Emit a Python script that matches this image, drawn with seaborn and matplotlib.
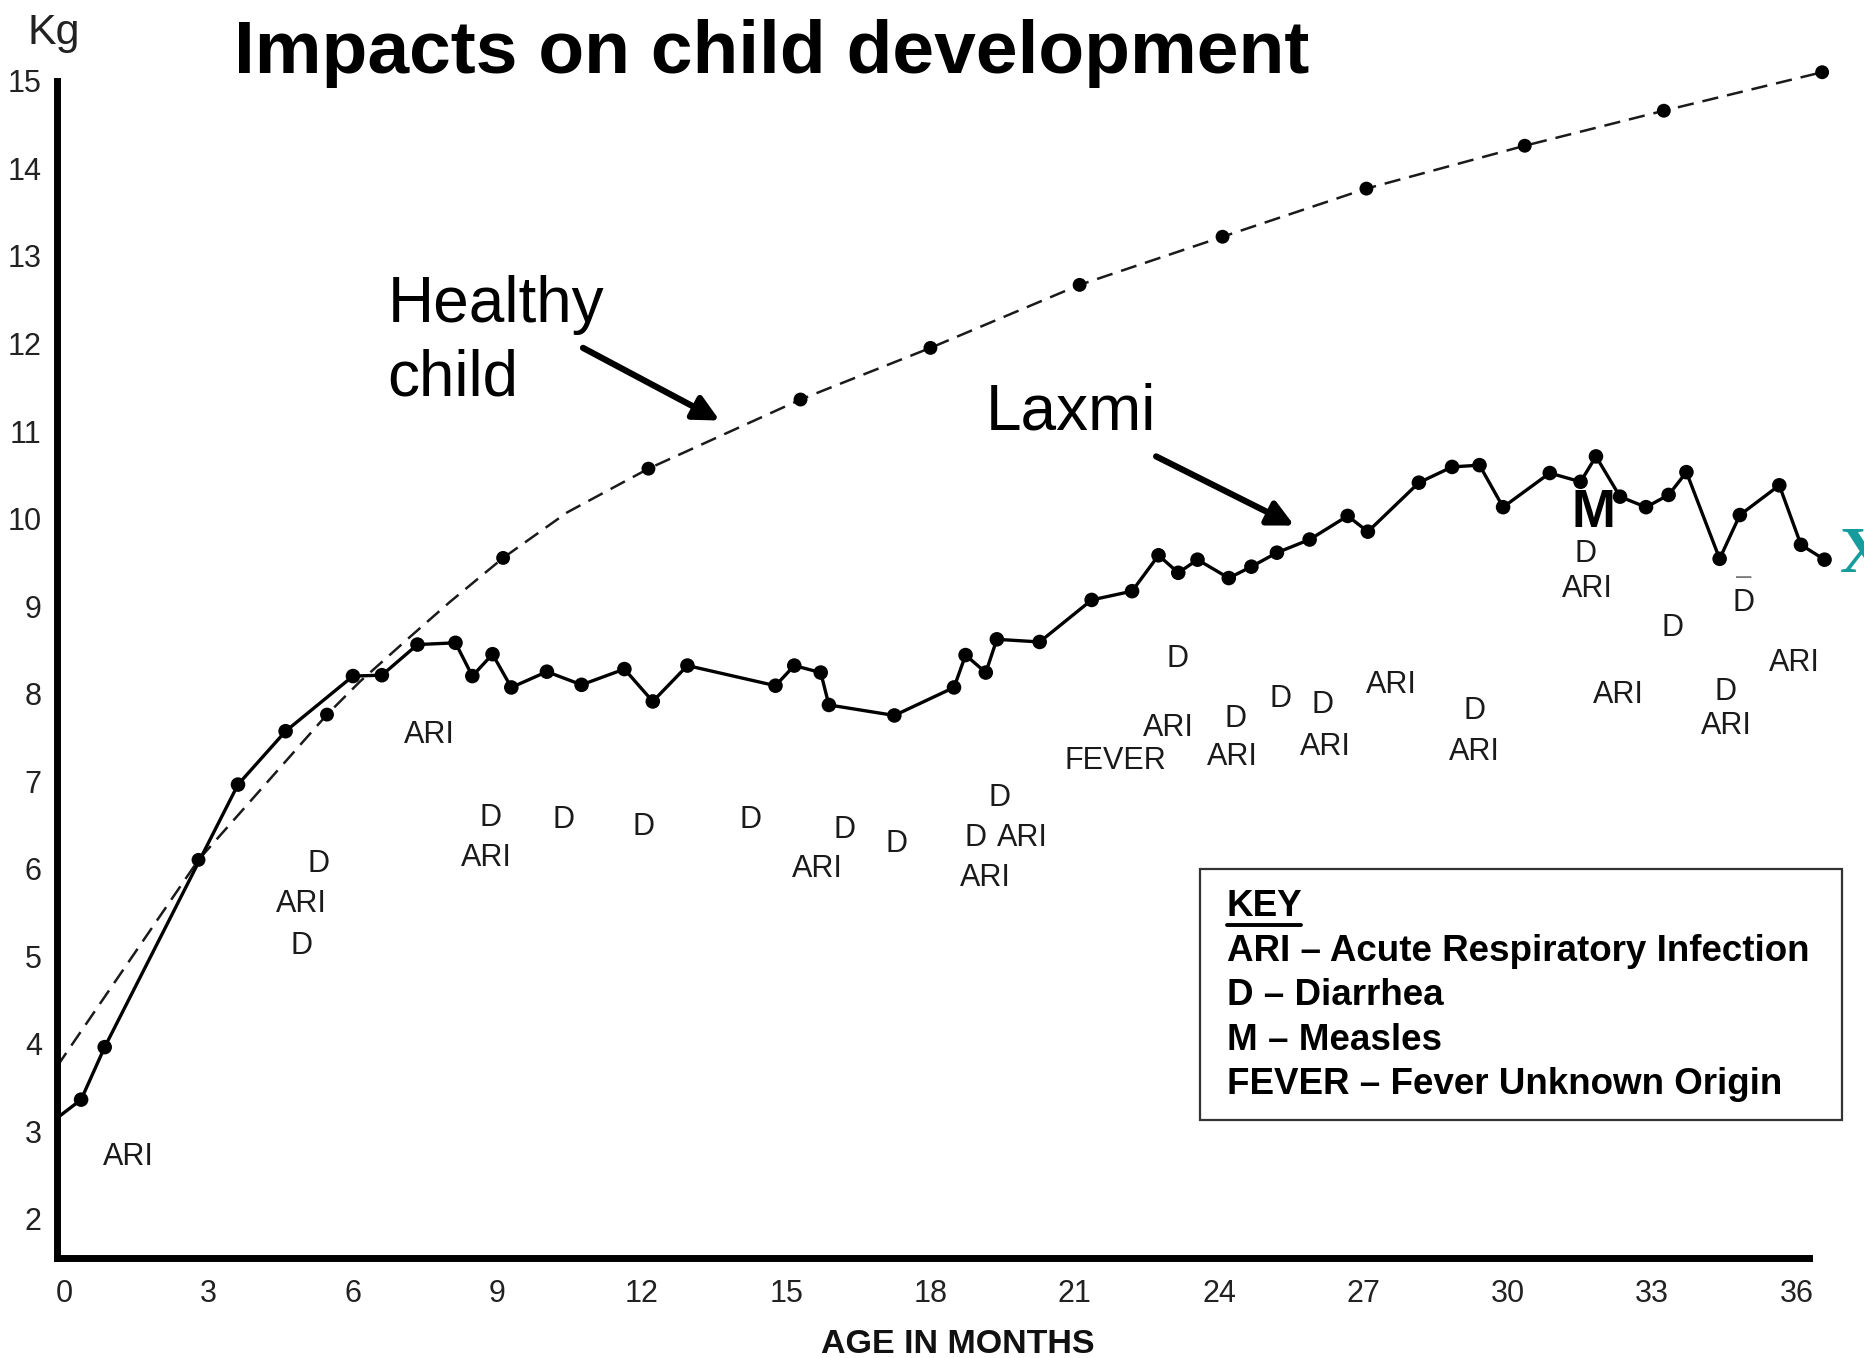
import matplotlib
matplotlib.use("Agg")
import matplotlib.pyplot as plt
import seaborn as sns
from matplotlib.patches import Rectangle
from matplotlib.lines import Line2D

# ---------------- data ----------------
healthy_month = [-0.15, 2.79, 5.46, 6.15, 7.19, 8.02, 9.12, 10.45, 12.14, 15.30,
                 18.00, 21.10, 24.07, 27.06, 30.35, 33.24, 36.53]
healthy_kg = [3.74, 6.10, 7.76, 8.14, 8.65, 9.05, 9.55, 10.07, 10.57, 11.36,
              11.95, 12.67, 13.22, 13.77, 14.26, 14.66, 15.10]
healthy_dot = [False, True, True, False, False, False, True, False, True, True,
               True, True, True, True, True, True, True]

laxmi_month = [-0.15, 0.35, 0.84, 3.61, 4.60, 6.00, 6.60, 7.34, 8.13, 8.48, 8.90,
               9.29, 10.03, 10.75, 11.64, 12.23, 12.95, 14.78, 15.17, 15.72,
               15.89, 17.25, 18.49, 18.73, 19.15, 19.38, 20.27, 21.35, 22.19,
               22.74, 23.15, 23.55, 24.20, 24.67, 25.20, 25.88, 26.67, 27.09,
               28.15, 28.84, 29.41, 29.90, 30.87, 31.51, 31.83, 32.33, 32.87,
               33.34, 33.71, 34.40, 34.82, 35.64, 36.09, 36.58]
laxmi_kg = [3.15, 3.36, 3.96, 6.96, 7.57, 8.20, 8.21, 8.56, 8.58, 8.20, 8.45,
            8.07, 8.25, 8.10, 8.28, 7.91, 8.32, 8.09, 8.32, 8.24, 7.87, 7.75,
            8.07, 8.44, 8.24, 8.62, 8.59, 9.07, 9.17, 9.58, 9.38, 9.53, 9.32,
            9.45, 9.61, 9.76, 10.03, 9.85, 10.41, 10.59, 10.61, 10.13, 10.52,
            10.42, 10.71, 10.25, 10.13, 10.27, 10.53, 9.54, 10.04, 10.38, 9.70,
            9.53]

event_labels = ["ARI", "D", "ARI", "D", "ARI", "D", "ARI", "D", "D", "D", "D",
                "ARI", "D", "D", "D", "ARI", "ARI", "FEVER", "ARI", "D", "D",
                "ARI", "D", "D", "ARI", "ARI", "D", "ARI", "D", "ARI", "ARI",
                "D", "D", "D", "ARI", "ARI"]
event_month = [1.33, 5.29, 4.92, 4.94, 7.59, 8.85, 8.77, 10.38, 12.04, 14.26,
               16.21, 15.64, 17.30, 19.43, 18.93, 19.92, 19.15, 21.85, 22.94,
               23.13, 24.34, 24.27, 25.28, 26.15, 26.20, 27.58, 29.31, 29.31,
               31.61, 31.66, 32.30, 33.42, 34.90, 34.53, 34.53, 35.96]
event_kg = [2.71, 6.05, 5.60, 5.12, 7.53, 6.58, 6.12, 6.55, 6.48, 6.55, 6.44,
            5.99, 6.28, 6.81, 6.35, 6.35, 5.89, 7.23, 7.61, 8.39, 7.71, 7.27,
            7.94, 7.87, 7.39, 8.10, 7.80, 7.33, 9.60, 9.19, 7.98, 8.75, 9.04,
            8.02, 7.63, 8.35]

x_ticks = list(range(0, 37, 3))
y_ticks = list(range(2, 16))
key_lines = ["ARI \u2013 Acute Respiratory Infection", "D \u2013 Diarrhea",
             "M \u2013 Measles", "FEVER \u2013 Fever Unknown Origin"]

# ---------------- style ----------------
sns.set_theme(style="white")
plt.rcParams["font.family"] = ["Liberation Sans", "DejaVu Sans"]
narrow = ["Liberation Sans Narrow", "Liberation Sans", "DejaVu Sans"]

fig = plt.figure(figsize=(18.64, 13.58), dpi=100)
ax = fig.add_axes([0.0306, 0.0736, 0.9694, 0.899])

# healthy child (dashed)
sns.lineplot(x=healthy_month, y=healthy_kg, ax=ax, sort=False, estimator=None,
             color="#1a1a1a", linewidth=1.8, linestyle=(0, (6.5, 3.6)))
hm = [m for m, d in zip(healthy_month, healthy_dot) if d]
hk = [k for k, d in zip(healthy_kg, healthy_dot) if d]
sns.scatterplot(x=hm, y=hk, ax=ax, color="black", s=100, edgecolor="none",
                zorder=4, clip_on=False)

# Laxmi (solid)
sns.lineplot(x=laxmi_month, y=laxmi_kg, ax=ax, sort=False, estimator=None,
             color="black", linewidth=2.4)
sns.scatterplot(x=laxmi_month[1:], y=laxmi_kg[1:], ax=ax, color="black", s=110,
                edgecolor="none", zorder=5, clip_on=False)

ax.set_xlim(-0.15, 37.4)
ax.set_ylim(1.55, 15.5)
for s in ["top", "right"]:
    ax.spines[s].set_visible(False)
for s in ["left", "bottom"]:
    ax.spines[s].set_linewidth(5)
    ax.spines[s].set_color("black")
    ax.spines[s].set_zorder(6)
ax.spines["left"].set_bounds(1.55, 15.0)
ax.spines["bottom"].set_bounds(-0.15, 36.26)
ax.set_xticks(x_ticks)
ax.set_yticks(y_ticks)
ax.set_xticklabels([str(t) for t in x_ticks], family=narrow, fontsize=22, color="#222222")
ax.set_yticklabels([str(t) for t in y_ticks], family=narrow, fontsize=22, color="#222222")
ax.tick_params(axis="x", length=0, pad=15)
ax.tick_params(axis="y", length=0, pad=11)
ax.set_xlabel("")
ax.set_ylabel("")
ax.grid(False)

# event annotations
for lab, m, k in zip(event_labels, event_month, event_kg):
    ax.text(m, k, lab, ha="center", va="center", fontsize=22, color="#1a1a1a")
# overline over one D
ax.text(34.90, 9.33, "\u2013", ha="center", va="center", fontsize=20, color="#777777")
ax.text(31.78, 10.06, "M", ha="center", va="center", fontsize=38,
        fontweight="bold", color="black")
ax.text(36.90, 9.57, "X", ha="left", va="center", fontsize=47, fontweight="bold",
        family=["Liberation Serif", "DejaVu Serif"], color="#169c9c", clip_on=False)

# labels with arrows
ax.text(6.72, 12.78, "Healthy\nchild", ha="left", va="top", fontsize=46,
        family=narrow, linespacing=1.28, color="black")
ax.annotate("", xy=(13.62, 11.12), xytext=(10.78, 11.95),
            arrowprops=dict(arrowstyle="-|>", lw=4.5, color="black",
                            mutation_scale=38, shrinkA=0, shrinkB=0))
ax.text(19.15, 11.21, "Laxmi", ha="left", va="center", fontsize=46,
        family=narrow, color="black")
ax.annotate("", xy=(25.56, 9.92), xytext=(22.69, 10.71),
            arrowprops=dict(arrowstyle="-|>", lw=4.5, color="black",
                            mutation_scale=38, shrinkA=0, shrinkB=0))

# figure texts
fig.text(0.414, 0.9606, "Impacts on child development", ha="center", va="center",
         fontsize=54, fontweight="bold", family=narrow, color="black")
fig.text(45 / 1568, 1 - 28 / 1142, "Kg", ha="center", va="center", fontsize=31,
         family=narrow, color="#222222")
fig.text(0.514, 0.0098, "AGE IN MONTHS", ha="center", va="center", fontsize=24.5,
         fontweight="bold", color="#111111")

# key box
fig.add_artist(Rectangle((0.644, 0.1751), 0.344, 0.1848, transform=fig.transFigure,
                         fill=False, lw=1.6, ec="#333333"))
fig.text(0.658, 0.3327, "KEY", ha="left", va="center", fontsize=26.5,
         fontweight="bold", color="black")
fig.add_artist(Line2D([0.658, 0.698], [0.3190, 0.3190], transform=fig.transFigure,
                      lw=2.8, color="black"))
for i, line in enumerate(key_lines):
    fig.text(0.658, 0.2995 - i * 0.0327, line, ha="left", va="center",
             fontsize=26.5, fontweight="bold", color="black")

fig.savefig("out.png", dpi=100)
